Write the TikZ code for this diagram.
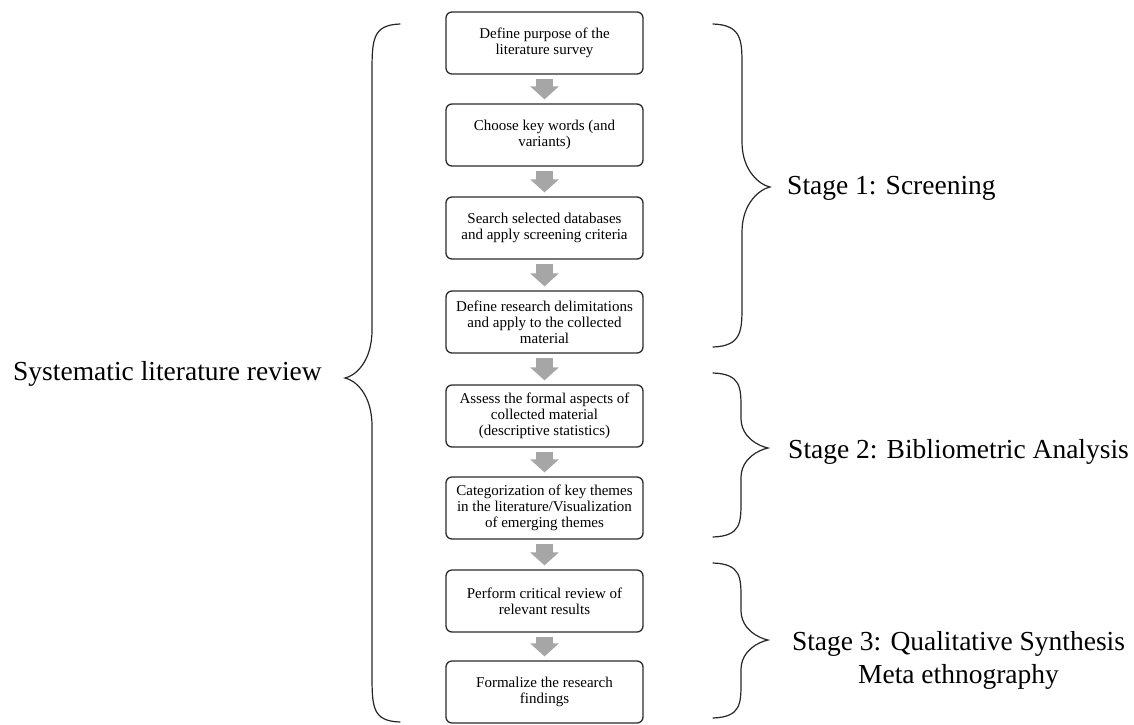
\documentclass[tikz,border=0pt]{standalone}
\usepackage{fontspec}
\setmainfont{Liberation Serif}
\usetikzlibrary{arrows.meta}

\definecolor{arrowgray}{HTML}{A6A6A6}
\definecolor{boxline}{HTML}{2B2B2B}

% right-facing curly brace: ends at x=#1, spine at x=#2, tip at x=#3,
% spanning y=#4 (top) .. #5 (tip) .. #6 (bottom); #7 = end bend, #8 = tip bend
\newcommand{\curlybrace}[8]{%
  \draw[bracestyle]
    (#1,#4) .. controls ({#2},{#4+1}) and ({#2},{#4+#7*0.4}) .. ({#2},{#4+#7})
    -- ({#2},{#5-#8})
    .. controls ({#2},{#5-#8*0.35}) and ({#3+(#2-#3)*0.35},{#5-2}) .. (#3,#5)
    .. controls ({#3+(#2-#3)*0.35},{#5+2}) and ({#2},{#5+#8*0.35}) .. ({#2},{#5+#8})
    -- ({#2},{#6-#7})
    .. controls ({#2},{#6-#7*0.4}) and ({#2},{#6-1}) .. (#1,#6);}

\begin{document}
\begin{tikzpicture}[x=1pt,y=-1pt,
  stepbox/.style={draw=boxline, line width=1.3pt, rounded corners=6pt,
    minimum width=197pt, minimum height=62pt, align=center, inner sep=0pt,
    font=\fontsize{15}{16}\selectfont},
  flow/.style={draw=arrowgray, line width=17pt, line cap=butt,
    -{Triangle[length=13pt,width=28pt]}, shorten <=4pt, shorten >=4pt},
  bracestyle/.style={draw=black!85, line width=1.2pt, line cap=round},
  biglabel/.style={font=\fontsize{27.5}{33}\selectfont, inner sep=0pt}
]
\useasboundingbox (0,0) rectangle (1134,724);

% process steps
\node[stepbox] (s1) at (544.5,43)  {Define purpose of the\\literature survey};
\node[stepbox] (s2) at (544.5,135) {Choose key words (and\\variants)};
\node[stepbox] (s3) at (544.5,228) {Search selected databases\\and apply screening criteria};
\node[stepbox] (s4) at (544.5,322) {Define research delimitations\\and apply to the collected\\material};
\node[stepbox] (s5) at (544.5,416) {Assess the formal aspects of\\collected material\\(descriptive statistics)};
\node[stepbox] (s6) at (544.5,508) {Categorization of key themes\\in the literature/Visualization\\of emerging themes};
\node[stepbox] (s7) at (544.5,601) {Perform critical review of\\relevant results};
\node[stepbox] (s8) at (544.5,692) {Formalize the research\\findings};

% block arrows between steps
\foreach \a/\b in {s1/s2,s2/s3,s3/s4,s4/s5,s5/s6,s6/s7,s7/s8}
  \draw[flow] (\a) -- (\b);

% left brace around the whole review
\draw[bracestyle]
  (400,24) .. controls (372,25) and (372,40) .. (372,75)
  -- (372,330)
  .. controls (372,362) and (355,376) .. (345,378)
  .. controls (355,380) and (372,394) .. (372,426)
  -- (372,672)
  .. controls (372,707) and (372,721) .. (400,722);

% stage braces
\curlybrace{713}{742}{770}{24}{187}{347}{42}{45}
\curlybrace{713}{741}{768}{373}{448}{537}{36}{30}
\curlybrace{713}{741}{768}{563}{640}{718}{36}{30}

% labels
\node[biglabel, anchor=base west] (review) at (13,380) {Systematic literature review};
\node[biglabel, anchor=base west] (stage1) at (787,194) {Stage 1: Screening};
\node[biglabel, anchor=base west] (stage2) at (788,458) {Stage 2: Bibliometric Analysis};
\node[biglabel, anchor=base] (stage3) at (958.5,650) {Stage 3: Qualitative Synthesis};
\node[biglabel, anchor=base] (stage3b) at (958.5,683) {Meta ethnography};
\end{tikzpicture}
\end{document}
